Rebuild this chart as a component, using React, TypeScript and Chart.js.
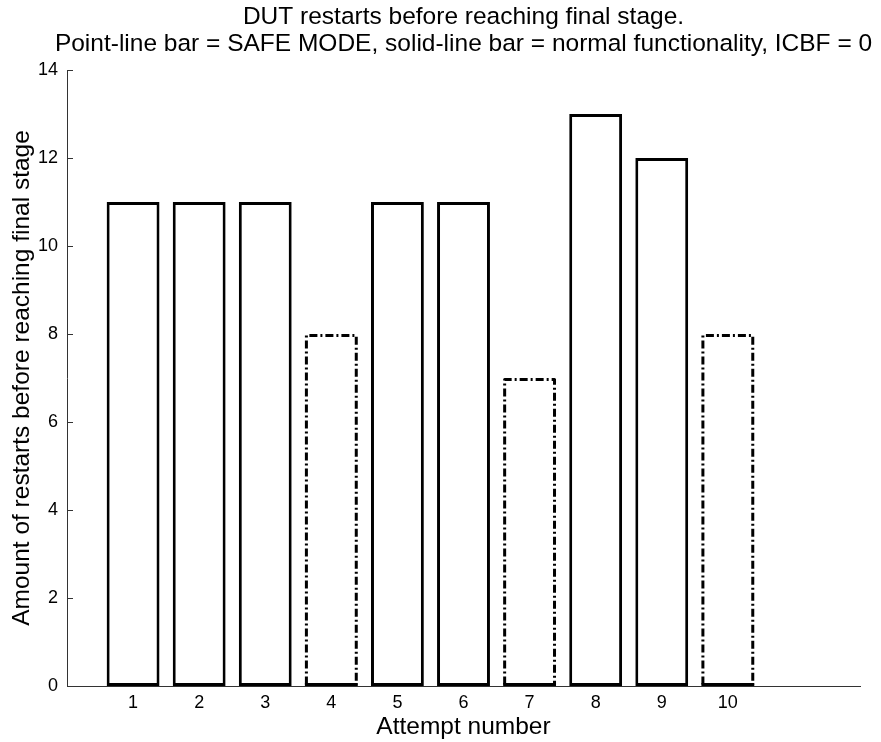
import React, { useEffect, useRef } from "react";
import { Chart, registerables } from "chart.js";

Chart.register(...registerables);

const attempts = [1, 2, 3, 4, 5, 6, 7, 8, 9, 10];
const restarts = [11, 11, 11, 8, 11, 11, 7, 13, 12, 8];
const safeMode = [false, false, false, true, false, false, true, false, false, true];
const yTicks = [0, 2, 4, 6, 8, 10, 12, 14];
const titleLines = [
  "DUT restarts before reaching final stage.",
  "Point-line bar = SAFE MODE, solid-line bar = normal functionality, ICBF = 0",
];
const xTitle = "Attempt number";
const yTitle = "Amount of restarts before reaching final stage";

const FONT = "'Liberation Sans', Arial, sans-serif";
const TITLE_SIZE = 24.5;
const TITLE_LH = 26.5;

const dashedBarsPlugin = {
  id: "dashedBars",
  afterDatasetsDraw(chart: any) {
    const meta = chart.getDatasetMeta(1);
    const ctx = chart.ctx;
    ctx.save();
    ctx.strokeStyle = "#000";
    ctx.lineWidth = 3;
    ctx.lineJoin = "round";
    meta.data.forEach((el: any) => {
      const p = el.getProps(["x", "y", "base", "width"], true);
      const l = p.x - p.width / 2 + 1.5;
      const r = p.x + p.width / 2 - 1.5;
      const t = p.y + 1.5;
      const b = p.base - 1.5;
      ctx.setLineDash([8, 3, 2, 3]);
      ctx.beginPath();
      ctx.moveTo(l, b);
      ctx.lineTo(l, t);
      ctx.lineTo(r, t);
      ctx.lineTo(r, b);
      ctx.stroke();
      ctx.setLineDash([]);
      ctx.beginPath();
      ctx.moveTo(l - 1.5, b);
      ctx.lineTo(r + 1.5, b);
      ctx.stroke();
    });
    ctx.restore();
  },
};

const inwardTicksPlugin = {
  id: "inwardTicks",
  afterDraw(chart: any) {
    const ctx = chart.ctx;
    const ys = chart.scales.y;
    const left = chart.chartArea.left;
    ctx.save();
    ctx.strokeStyle = "#333";
    ctx.lineWidth = 1;
    yTicks.forEach((v) => {
      const py = Math.round(ys.getPixelForValue(v)) + 0.5;
      ctx.beginPath();
      ctx.moveTo(left, py);
      ctx.lineTo(left + 6, py);
      ctx.stroke();
    });
    ctx.restore();
  },
};

const axesTitlePlugin = {
  id: "axesTitle",
  afterDraw(chart: any) {
    const ctx = chart.ctx;
    const { left, right } = chart.chartArea;
    const cx = (left + right) / 2;
    ctx.save();
    ctx.fillStyle = "#000";
    ctx.font = `${TITLE_SIZE}px ${FONT}`;
    ctx.textAlign = "center";
    ctx.textBaseline = "middle";
    titleLines.forEach((line, i) => {
      ctx.fillText(line, cx, 4 + TITLE_LH / 2 + i * TITLE_LH);
    });
    ctx.restore();
  },
};

export default function App() {
  const ref = useRef<HTMLCanvasElement>(null);
  useEffect(() => {
    const normalData = attempts
      .map((a, i) => ({ x: a, y: restarts[i], s: safeMode[i] }))
      .filter((d) => !d.s)
      .map((d) => ({ x: d.x, y: d.y }));
    const safeData = attempts
      .map((a, i) => ({ x: a, y: restarts[i], s: safeMode[i] }))
      .filter((d) => d.s)
      .map((d) => ({ x: d.x, y: d.y }));
    const chart = new Chart(ref.current!, {
      type: "bar",
      data: {
        datasets: [
          {
            data: normalData,
            backgroundColor: "#fff",
            borderColor: "#000",
            borderWidth: 3,
            borderSkipped: false,
            grouped: false,
            categoryPercentage: 1,
            barPercentage: 0.8,
          } as any,
          {
            data: safeData,
            backgroundColor: "#fff",
            borderColor: "rgba(0,0,0,0)",
            borderWidth: 0,
            grouped: false,
            categoryPercentage: 1,
            barPercentage: 0.8,
          } as any,
        ],
      },
      options: {
        animation: false,
        responsive: false,
        devicePixelRatio: 1,
        layout: { padding: { left: 0, right: 21, top: 0, bottom: 0 } },
        plugins: {
          legend: { display: false },
          tooltip: { enabled: false },
          title: {
            display: true,
            text: titleLines,
            color: "rgba(0,0,0,0)",
            font: { family: FONT, size: TITLE_SIZE, weight: "normal", lineHeight: TITLE_LH / TITLE_SIZE },
            padding: { top: 4, bottom: 13 },
          },
        },
        scales: {
          x: {
            type: "linear",
            min: 0,
            max: 12,
            offset: false,
            afterBuildTicks: (s: any) => {
              s.ticks = attempts.map((v) => ({ value: v }));
            },
            afterFit: (s: any) => {
              s.height = 56;
            },
            grid: { display: false, drawTicks: false },
            border: { display: true, color: "#333", width: 1 },
            ticks: {
              color: "#000",
              font: { family: FONT, size: 18 },
              padding: 6,
              maxRotation: 0,
              autoSkip: false,
            },
            title: {
              display: true,
              text: xTitle,
              color: "#000",
              font: { family: FONT, size: 24.5, lineHeight: 1.1 },
              padding: { top: 0, bottom: 1 },
            },
          },
          y: {
            min: 0,
            max: 14,
            afterBuildTicks: (s: any) => {
              s.ticks = yTicks.map((v) => ({ value: v }));
            },
            afterFit: (s: any) => {
              s.width = 67;
            },
            grid: { display: false, drawTicks: false },
            border: { display: true, color: "#333", width: 1 },
            ticks: {
              color: "#000",
              font: { family: FONT, size: 18 },
              padding: 9,
            },
            title: {
              display: true,
              text: yTitle,
              color: "#000",
              font: { family: FONT, size: 24.5, lineHeight: 1.1 },
              padding: { top: 9, bottom: 0 },
            },
          },
        },
      } as any,
      plugins: [dashedBarsPlugin, inwardTicksPlugin, axesTitlePlugin],
    });
    return () => chart.destroy();
  }, []);
  return (
    <div style={{ position: "fixed", left: 0, top: 0, width: 881, height: 742, background: "#fff" }}>
      <canvas ref={ref} width={881} height={742} />
    </div>
  );
}
